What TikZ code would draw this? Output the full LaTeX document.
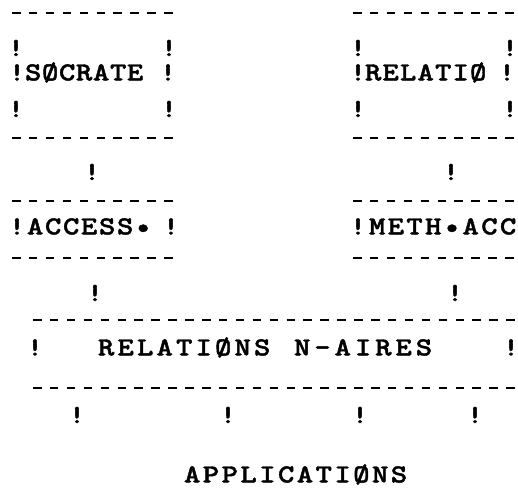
\documentclass[tikz,border=0pt]{standalone}
\usepackage{fontspec}
\usepackage{tikz}
\newfontfamily\typewriter[FakeStretch=1.2,FakeBold=1.6]{lmmonolt10-bold.otf}

% one character per fixed cell, like the typewriter
\newlength{\pitch}
\def\spread#1{\ifx#1\relax\else\hbox to\pitch{\hss#1\hss}\expandafter\spread\fi}
\newcommand{\typed}[2]{\setlength{\pitch}{#1pt}\spread#2\relax}

\tikzset{
  tty/.style={font=\typewriter\fontsize{26}{26}\selectfont, inner sep=0pt},
  word/.style={tty, anchor=base west},
  bang/.style={tty, anchor=center},
  dashrow/.style={line width=2.8pt, dash pattern=on 8.5pt off 8.4pt}
}

\begin{document}
\begin{tikzpicture}[x=1pt,y=-1pt]
            \useasboundingbox (0,0) rectangle (518,496);
            % box SOCRATE
            \coordinate (sa) at (12,13);
            \coordinate (sb) at (175,13);
            \coordinate (sc) at (12,138);
            \coordinate (sd) at (175,138);
            \draw[dashrow] (sa) -- (sb);
            \draw[dashrow] (sc) -- (sd);
            \node[bang] (s1l) at (16,48) {!};
            \node[bang] (s1r) at (169,48) {!};
            \node[bang] (s2l) at (17,72.5) {!};
            \node[word] (soc) at (24.5,80.4) {\typed{17}{SØCRATE}};
            \node[bang] (s2r) at (168,72.5) {!};
            \node[bang] (s3l) at (16,109) {!};
            \node[bang] (s3r) at (169,109) {!};
            \node[bang] (s5) at (92,172) {!};
            % box RELATIO
            \coordinate (ra) at (353,13);
            \coordinate (rb) at (518,13);
            \coordinate (rc) at (353,138);
            \coordinate (rd) at (518,138);
            \draw[dashrow] (ra) -- (rb);
            \draw[dashrow] (rc) -- (rd);
            \node[bang] (r1l) at (358,48) {!};
            \node[bang] (r1r) at (510,48) {!};
            \node[bang] (r2l) at (358,72.5) {!};
            \node[word] (rel) at (364.25,80.4) {\typed{17.5}{RELATIØ}};
            \node[bang] (r2r) at (507,72.5) {!};
            \node[bang] (r3l) at (358,109) {!};
            \node[bang] (r3r) at (510,109) {!};
            \node[bang] (r5) at (451,172) {!};
            % box ACCESS
            \coordinate (aa) at (12,201);
            \coordinate (ab) at (175,201);
            \coordinate (ac) at (12,258);
            \coordinate (ad) at (175,258);
            \draw[dashrow] (aa) -- (ab);
            \draw[dashrow] (ac) -- (ad);
            \node[bang] (a7l) at (17,226.5) {!};
            \node[word] (acc) at (26,234.4) {\typed{18}{ACCESS•}};
            \node[bang] (a7r) at (171,226.5) {!};
            \node[bang] (a9) at (95,293) {!};
            % box METH.ACC
            \coordinate (ma) at (353,201);
            \coordinate (mb) at (518,201);
            \coordinate (mc) at (353,258);
            \coordinate (md) at (518,258);
            \draw[dashrow] (ma) -- (mb);
            \draw[dashrow] (mc) -- (md);
            \node[bang] (m7l) at (358,226.5) {!};
            \node[word] (meth) at (367.65,234.4) {\typed{18.7}{METH•ACC}};
            \node[bang] (m9) at (455,293) {!};
            % box RELATIONS N-AIRES
            \coordinate (na) at (33,320);
            \coordinate (nb) at (518,320);
            \coordinate (nc) at (33,388);
            \coordinate (nd) at (518,388);
            \draw[dashrow] (na) -- (nb);
            \draw[dashrow] (nc) -- (nd);
            \node[bang] (n11l) at (35,347.5) {!};
            \node[word] (rels) at (96.25,355.4) {\typed{19.5}{RELATIØNS}};
            \node[word] (nair) at (291.85,355.4) {\typed{20.3}{N-AIRES}};
            \node[bang] (n11r) at (511,347.5) {!};
            \node[bang] (p1) at (77,415) {!};
            \node[bang] (p2) at (228,415) {!};
            \node[bang] (p3) at (360,415) {!};
            \node[bang] (p4) at (475,415) {!};
            % applications
            \node[word] (appl) at (182.6,482.4) {\typed{18.8}{APPLICATIØNS}};
        \end{tikzpicture}
\end{document}
